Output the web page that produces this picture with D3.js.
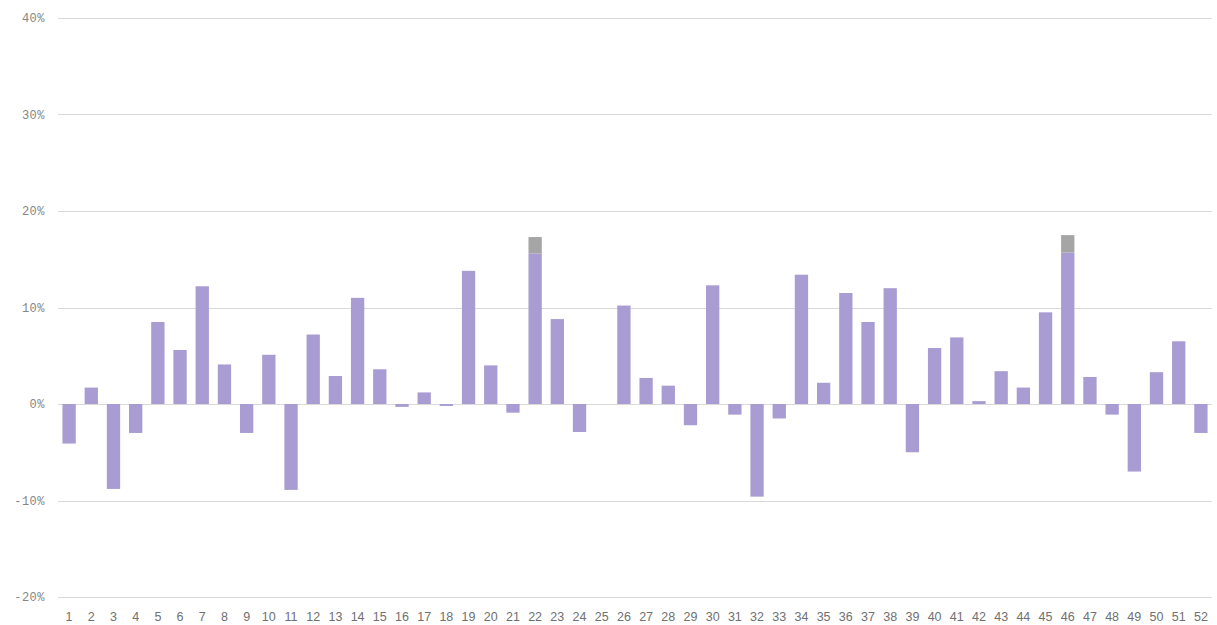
<!DOCTYPE html>
<html>
<head>
<meta charset="utf-8">
<script src="https://cdn.jsdelivr.net/npm/d3@7"></script>
<style>
  body { margin: 0; background: #fff; }
  .ylab { font-family: "Liberation Mono", "DejaVu Sans Mono", monospace; font-size: 12px; letter-spacing: 0.5px; fill: #858585; }
  .xlab { font-family: "Liberation Sans", Arial, sans-serif; font-size: 12.5px; fill: #707070; }
</style>
</head>
<body>
<svg id="chart" width="1217" height="625"></svg>
<script>
var weeks = d3.range(1, 53).map(String);
// main series (percent)
var mainValues = [-4.1, 1.7, -8.8, -3.0, 8.5, 5.6, 12.2, 4.1, -3.0, 5.1,
                  -8.9, 7.2, 2.9, 11.0, 3.6, -0.3, 1.2, -0.2, 13.8, 4.0,
                  -0.9, 15.6, 8.8, -2.9, 0, 10.2, 2.7, 1.9, -2.2, 12.3,
                  -1.1, -9.6, -1.5, 13.4, 2.2, 11.5, 8.5, 12.0, -5.0, 5.8,
                  6.9, 0.3, 3.4, 1.7, 9.5, 15.7, 2.8, -1.1, -7.0, 3.3,
                  6.5, -3.0];
// grey cap stacked on top of two bars
var extraValues = weeks.map(function(){ return 0; });
extraValues[21] = 1.7;
extraValues[45] = 1.8;
var yTicks = [-20, -10, 0, 10, 20, 30, 40];

var svg = d3.select("#chart");
var padLeft = 58, padRight = 1212, padTop = 18, padBottom = 597;

var xScale = d3.scaleBand()
    .domain(weeks)
    .range([padLeft, padRight])
    .paddingInner(0.4)
    .paddingOuter(0.2);

var yScale = d3.scaleLinear()
    .domain([-20, 40])
    .range([padBottom, padTop]);

// gridlines
svg.append("g")
    .selectAll("line")
    .data(yTicks)
    .enter().append("line")
    .attr("x1", padLeft)
    .attr("x2", padRight)
    .attr("y1", function(d){ return Math.round(yScale(d)) + 0.5; })
    .attr("y2", function(d){ return Math.round(yScale(d)) + 0.5; })
    .attr("stroke", "#d9d9d9")
    .attr("stroke-width", 1);

svg.append("g")
    .selectAll("text")
    .data(yTicks)
    .enter().append("text")
    .attr("class", "ylab")
    .attr("x", 45)
    .attr("y", function(d){ return yScale(d) + 4; })
    .attr("text-anchor", "end")
    .text(function(d){ return d + "%"; });

// bars
svg.append("g")
    .selectAll("rect")
    .data(mainValues)
    .enter().append("rect")
    .attr("x", function(d, i){ return xScale(weeks[i]); })
    .attr("width", xScale.bandwidth())
    .attr("y", function(d){ return yScale(Math.max(0, d)); })
    .attr("height", function(d){ return Math.abs(yScale(d) - yScale(0)); })
    .attr("fill", "#a99cd3");

svg.append("g")
    .selectAll("rect")
    .data(extraValues)
    .enter().append("rect")
    .attr("x", function(d, i){ return xScale(weeks[i]); })
    .attr("width", xScale.bandwidth())
    .attr("y", function(d, i){ return yScale(mainValues[i] + d); })
    .attr("height", function(d){ return yScale(0) - yScale(d); })
    .attr("fill", "#a5a5a5");

// x labels
svg.append("g")
    .selectAll("text")
    .data(weeks)
    .enter().append("text")
    .attr("class", "xlab")
    .attr("x", function(d){ return xScale(d) + xScale.bandwidth() / 2; })
    .attr("y", 621)
    .attr("text-anchor", "middle")
    .text(function(d){ return d; });
</script>
</body>
</html>
